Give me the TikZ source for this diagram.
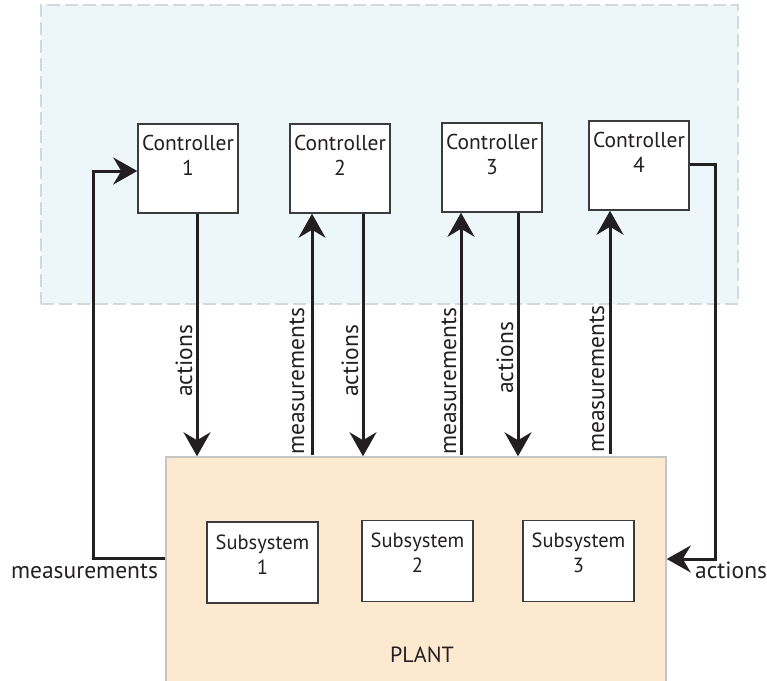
\documentclass[tikz,border=0pt]{standalone}
\usepackage{fontspec}
\setmainfont{PT Sans}
\usetikzlibrary{arrows.meta}
\definecolor{ctrlbg}{RGB}{237,247,249}
\definecolor{ctrledge}{RGB}{212,218,220}
\definecolor{plantbg}{RGB}{253,233,208}
\definecolor{plantedge}{RGB}{198,198,198}
\definecolor{ink}{RGB}{35,31,32}
\definecolor{boxedge}{RGB}{60,60,60}

\begin{document}
\begin{tikzpicture}[x=1pt,y=-1pt,
  zone/.style={draw=ctrledge, fill=ctrlbg, line width=1.2pt,
    dash pattern=on 13pt off 5pt, minimum width=697pt, minimum height=299pt, inner sep=0pt},
  plantbox/.style={draw=plantedge, fill=plantbg, line width=1.5pt,
    minimum width=500pt, minimum height=243pt, inner sep=0pt},
  ctrlbox/.style={draw=boxedge, fill=white, line width=1.5pt,
    minimum width=100pt, minimum height=89pt, inner sep=0pt},
  subbox/.style={draw=boxedge, fill=white, line width=1.5pt,
    minimum width=111pt, minimum height=81pt, inner sep=0pt},
  boxtext/.style={font=\fontsize{21.5}{25}\selectfont, align=center, inner sep=0pt,
    anchor=north, text=ink},
  subtext/.style={font=\fontsize{20.5}{25}\selectfont, align=center, inner sep=0pt,
    anchor=north, text=ink},
  sigtext/.style={font=\fontsize{23.5}{26}\selectfont, text=ink, inner sep=0pt, anchor=base},
  vsigtext/.style={sigtext, rotate=90},
  flow/.style={draw=ink, line width=3pt, line join=miter,
    -{Stealth[length=24pt, width=27pt, inset=8pt]}}
]
\clip (0,0) rectangle (767,680);

% controller area and plant
\node[zone] (zone) at (389.5,154.5) {};
\node[plantbox] (plant) at (416,578.5) {};

% controllers
\node[ctrlbox] (c1) at (188,168.5) {};
\node[ctrlbox] (c2) at (340,168.5) {};
\node[ctrlbox] (c3) at (492,167.5) {};
\node[ctrlbox] (c4) at (639,165.5) {};
\node[boxtext] (c1t) at ([yshift=-12pt]c1.north) {Controller\\1};
\node[boxtext] (c2t) at ([yshift=-12pt]c2.north) {Controller\\2};
\node[boxtext] (c3t) at ([yshift=-12pt]c3.north) {Controller\\3};
\node[boxtext] (c4t) at ([yshift=-12pt]c4.north) {Controller\\4};

% subsystems
\node[subbox] (s1) at (262.5,562.5) {};
\node[subbox] (s2) at (417.5,561) {};
\node[subbox] (s3) at (578.5,561) {};
\node[subtext] (s1t) at ([yshift=-13pt]s1.north) {Subsystem\\1};
\node[subtext] (s2t) at ([yshift=-13pt]s2.north) {Subsystem\\2};
\node[subtext] (s3t) at ([yshift=-13pt]s3.north) {Subsystem\\3};
\node[sigtext, font=\fontsize{22}{25}\selectfont] (plantlbl) at (422,662) {PLANT};

% actions, controllers to plant
\draw[flow] ([xshift=9pt]c1.south) -- ([xshift=9pt]c1.south |- plant.north);
\draw[flow] ([xshift=23pt]c2.south) -- ([xshift=23pt]c2.south |- plant.north);
\draw[flow] ([xshift=26pt]c3.south) -- ([xshift=26pt]c3.south |- plant.north);

% measurements, plant to controllers
\draw[flow] ([xshift=-28pt]c2.south |- 0,455) -- ([xshift=-28pt]c2.south);
\draw[flow] ([xshift=-31pt]c3.south |- 0,455) -- ([xshift=-31pt]c3.south);
\draw[flow] ([xshift=-29pt]c4.south |- 0,454) -- ([xshift=-29pt]c4.south);

% outer loops
\coordinate (lb) at (93,171);
\coordinate (rb) at (715,559);
\draw[flow] (plant.west |- 0,558) -| (lb) -- (c1.west |- lb);
\draw[flow] (c4.east |- 0,164) -| (rb) -- (plant.east |- rb);

% signal labels
\node[vsigtext] (a1) at (192,361) {actions};
\node[vsigtext] (m2) at (304,381.5) {measurements};
\node[vsigtext] (a2) at (358,361) {actions};
\node[vsigtext] (m3) at (456,381.5) {measurements};
\node[vsigtext] (a3) at (513,358) {actions};
\node[vsigtext] (m4) at (604,379.5) {measurements};
\node[sigtext] (m1) at (84.5,578) {measurements};
\node[sigtext, anchor=base west] (a4) at (695,578) {actions};
\end{tikzpicture}
\end{document}
